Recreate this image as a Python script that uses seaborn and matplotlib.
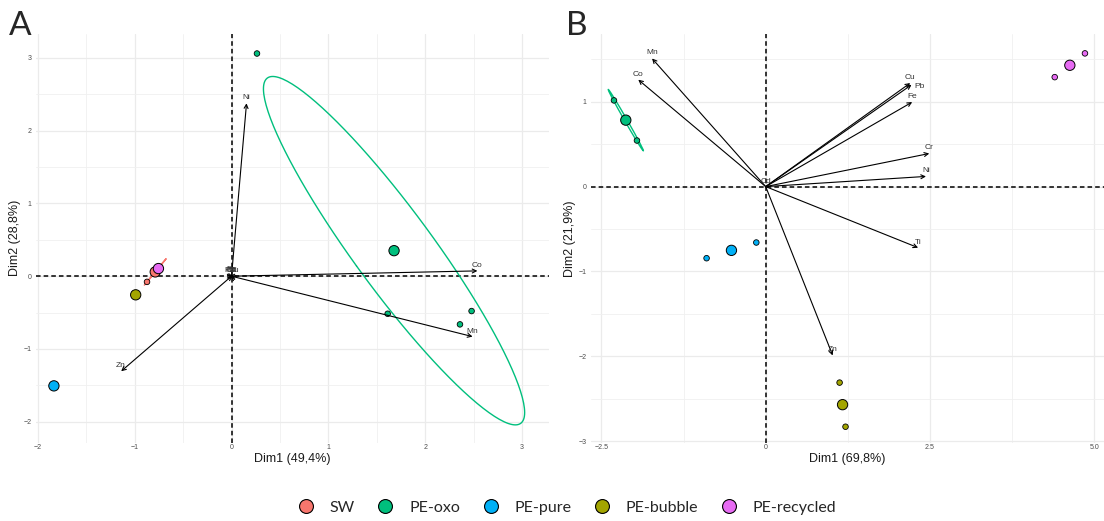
import numpy as np
import pandas as pd
import matplotlib
matplotlib.use("Agg")
import matplotlib.pyplot as plt
from matplotlib.lines import Line2D
from matplotlib.ticker import MultipleLocator, FixedLocator, FixedFormatter
import seaborn as sns

groups = ["SW", "PE-oxo", "PE-pure", "PE-bubble", "PE-recycled"]
group_colors = ["#F8766D", "#00BF7D", "#00B0F6", "#A3A500", "#E76BF3"]

# Panel A - individuals
a_group = ["SW", "SW", "SW", "PE-oxo", "PE-oxo", "PE-oxo", "PE-oxo",
           "PE-pure", "PE-bubble", "PE-recycled"]
a_dim1 = [-0.873, -0.745, -0.746, 0.263, 1.613, 2.360, 2.480, -1.835, -0.990, -0.755]
a_dim2 = [-0.078, 0.125, 0.130, 3.060, -0.516, -0.662, -0.479, -1.507, -0.256, 0.105]

# Panel A - variables
a_vars = ["Mn", "Co", "Ni", "Zn", "Cd", "Cr", "Cu", "Fe", "Pb", "Ti"]
a_load1 = [2.49, 2.54, 0.155, -1.14, 0.01, -0.01, 0.02, 0.0, -0.02, 0.015]
a_load2 = [-0.83, 0.073, 2.376, -1.306, 0.0, 0.005, -0.005, 0.01, 0.0, 0.005]

# Panel B - individuals
b_group = ["PE-oxo", "PE-oxo", "PE-oxo", "PE-pure", "PE-pure",
           "PE-bubble", "PE-bubble", "PE-recycled", "PE-recycled"]
b_dim1 = [-2.310, -1.960, -2.119, -0.900, -0.143, 1.125, 1.215, 4.400, 4.860]
b_dim2 = [1.016, 0.543, 0.791, -0.844, -0.659, -2.310, -2.830, 1.290, 1.570]

# Panel B - variables
b_vars = ["Mn", "Co", "Cu", "Pb", "Fe", "Cr", "Ni", "Ti", "Zn", "Cd"]
b_load1 = [-1.73, -1.94, 2.20, 2.22, 2.23, 2.49, 2.44, 2.32, 1.02, 0.0]
b_load2 = [1.51, 1.26, 1.22, 1.20, 0.996, 0.39, 0.12, -0.72, -1.99, 0.0]

a_xlabel = "Dim1 (49,4%)"
a_ylabel = "Dim2 (28,8%)"
b_xlabel = "Dim1 (69,8%)"
b_ylabel = "Dim2 (21,9%)"

a_xticks = [-2, -1, 0, 1, 2, 3]
a_xticklabels = ["\u22122", "\u22121", "0", "1", "2", "3"]
a_yticks = [-2, -1, 0, 1, 2, 3]
a_yticklabels = ["\u22122", "\u22121", "0", "1", "2", "3"]
b_xticks = [-2.5, 0, 2.5, 5.0]
b_xticklabels = ["\u22122.5", "0", "2.5", "5.0"]
b_yticks = [-3, -2, -1, 0, 1]
b_yticklabels = ["\u22123", "\u22122", "\u22121", "0", "1"]

palette = dict(zip(groups, group_colors))

sns.set_style("white")
plt.rcParams["font.family"] = ["Liberation Sans", "DejaVu Sans"]

fig = plt.figure(figsize=(11.04, 5.21), dpi=100)
ax_a = fig.add_axes([0.0326, 0.150, 0.4647, 0.785])
ax_b = fig.add_axes([0.5353, 0.150, 0.4647, 0.785])


def conf_ellipse(x, y, level=0.97, npts=200):
    pts = np.column_stack([x, y])
    n = len(pts)
    centre = pts.mean(axis=0)
    cov = np.cov(pts, rowvar=False) / n
    radius = np.sqrt(-2 * np.log(1 - level))
    vals, vecs = np.linalg.eigh(cov)
    vals = np.clip(vals, 0, None)
    t = np.linspace(0, 2 * np.pi, npts)
    circle = np.column_stack([np.cos(t), np.sin(t)]) * np.sqrt(vals) * radius
    return centre + circle @ vecs.T


def biplot(ax, ind, var, xlim, ylim, xticks, xticklabels, yticks, yticklabels,
           xminor, yminor, xlabel, ylabel, nudges):
    ax.set_xlim(xlim)
    ax.set_ylim(ylim)

    ax.xaxis.set_major_locator(FixedLocator(xticks))
    ax.xaxis.set_major_formatter(FixedFormatter(xticklabels))
    ax.yaxis.set_major_locator(FixedLocator(yticks))
    ax.yaxis.set_major_formatter(FixedFormatter(yticklabels))
    ax.xaxis.set_minor_locator(MultipleLocator(xminor))
    ax.yaxis.set_minor_locator(MultipleLocator(yminor))
    ax.grid(which="major", color="#EBEBEB", lw=0.9)
    ax.grid(which="minor", color="#F0F0F0", lw=0.6)
    ax.set_axisbelow(True)
    ax.tick_params(axis="both", which="major", labelsize=5, colors="#4D4D4D", pad=1)
    ax.tick_params(axis="x", which="both", length=0)
    ax.tick_params(axis="y", which="major", length=2, width=0.6, color="#4D4D4D")
    ax.tick_params(axis="y", which="minor", length=0)
    for s in ax.spines.values():
        s.set_visible(False)

    ax.axhline(0, color="black", lw=1.1, ls=(0, (3, 2)), zorder=2)
    ax.axvline(0, color="black", lw=1.1, ls=(0, (3, 2)), zorder=2)

    # ellipses for groups with at least three samples
    for g in groups:
        sub = ind[ind["group"] == g]
        if len(sub) < 3:
            continue
        e = conf_ellipse(sub["dim1"].values, sub["dim2"].values)
        ax.plot(e[:, 0], e[:, 1], color=palette[g], lw=1.0, zorder=3)

    sns.scatterplot(data=ind, x="dim1", y="dim2", hue="group", palette=palette,
                    hue_order=groups, s=16, edgecolor="black", linewidth=0.6,
                    legend=False, ax=ax, zorder=4)
    means = ind.groupby("group", sort=False)[["dim1", "dim2"]].mean().reset_index()
    sns.scatterplot(data=means, x="dim1", y="dim2", hue="group", palette=palette,
                    hue_order=groups, s=55, edgecolor="black", linewidth=0.7,
                    legend=False, ax=ax, zorder=5)

    for _, row in var.iterrows():
        ax.annotate("", xy=(row["d1"], row["d2"]), xytext=(0, 0),
                    arrowprops=dict(arrowstyle="->", lw=0.8, color="black",
                                    shrinkA=0, shrinkB=0, mutation_scale=7),
                    zorder=6)
        dx, dy = nudges.get(row["var"], (0, 1.5))
        ax.annotate(row["var"], xy=(row["d1"], row["d2"]), xytext=(dx, dy),
                    textcoords="offset points", ha="center", va="bottom",
                    fontsize=6, color="#333333", zorder=7)

    ax.set_xlabel(xlabel, fontsize=9, labelpad=1, color="#1A1A1A")
    ax.set_ylabel(ylabel, fontsize=9, labelpad=2, color="#1A1A1A")


ind_a = pd.DataFrame({"group": a_group, "dim1": a_dim1, "dim2": a_dim2})
var_a = pd.DataFrame({"var": a_vars, "d1": a_load1, "d2": a_load2})
ind_b = pd.DataFrame({"group": b_group, "dim1": b_dim1, "dim2": b_dim2})
var_b = pd.DataFrame({"var": b_vars, "d1": b_load1, "d2": b_load2})

biplot(ax_a, ind_a, var_a, (-2.02, 3.28), (-2.29, 3.33),
       a_xticks, a_xticklabels, a_yticks, a_yticklabels, 0.5, 0.5,
       a_xlabel, a_ylabel, {})
biplot(ax_b, ind_b, var_b, (-2.66, 5.15), (-3.02, 1.80),
       b_xticks, b_xticklabels, b_yticks, b_yticklabels, 1.25, 0.5,
       b_xlabel, b_ylabel, {"Pb": (6, -4)})

fig.text(0.008, 0.933, "A", fontsize=24, family="Lato", va="baseline")
fig.text(0.513, 0.933, "B", fontsize=24, family="Lato", va="baseline")

handles = [Line2D([0], [0], marker="o", ls="", markersize=10,
                  markerfacecolor=c, markeredgecolor="black", markeredgewidth=0.8)
           for c in group_colors]
fig.legend(handles, groups, loc="center", bbox_to_anchor=(0.51, 0.025), ncol=5,
           frameon=False, prop={"family": "Lato", "size": 11.5},
           handletextpad=0.5, columnspacing=0.9)

fig.savefig("out.png", dpi=100)
